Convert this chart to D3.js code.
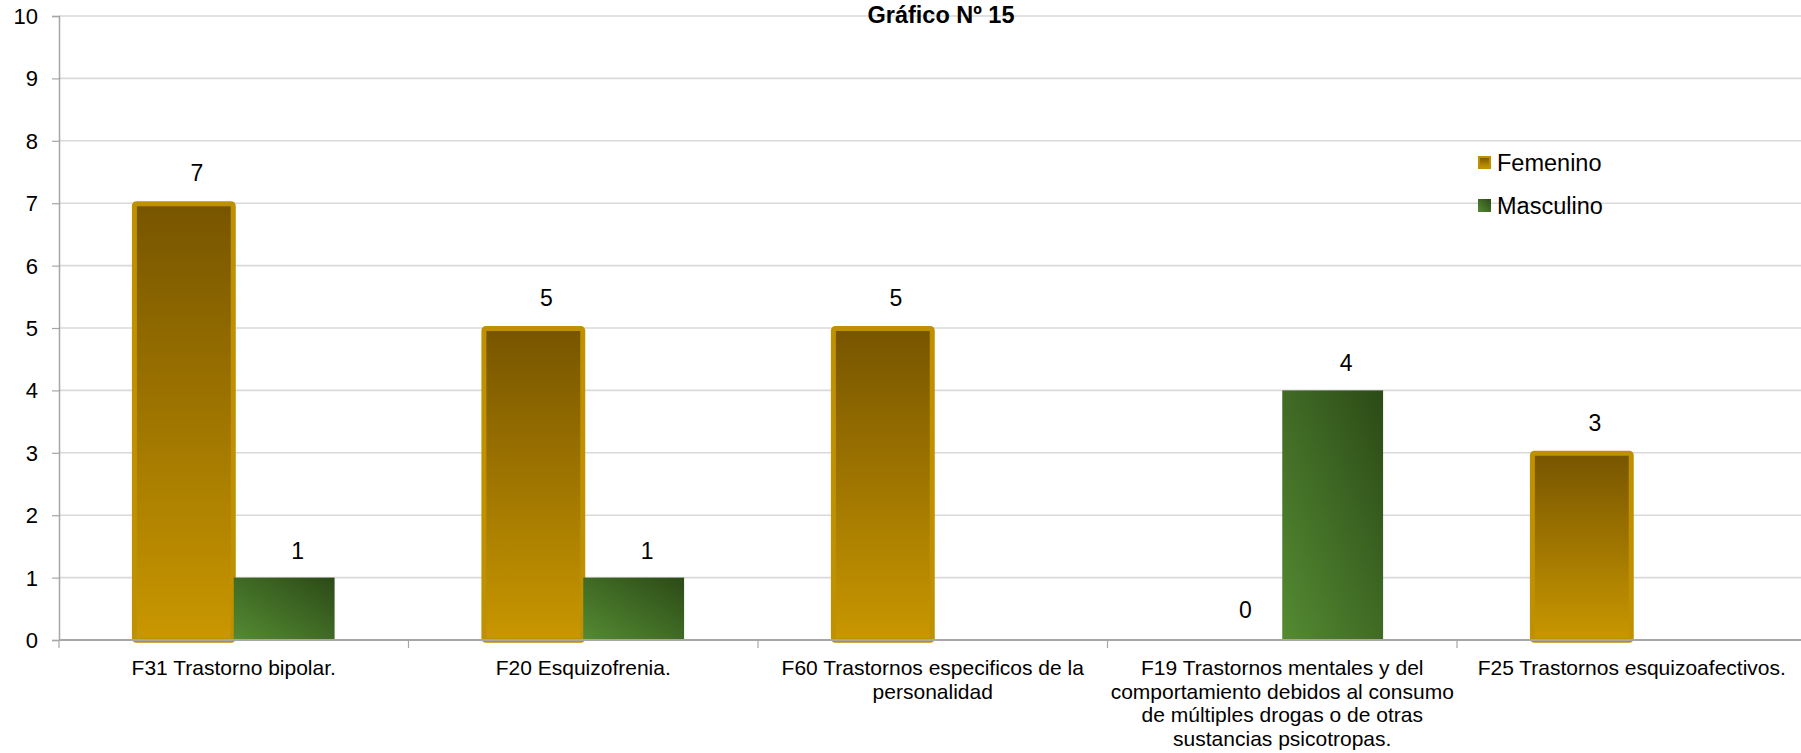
<!DOCTYPE html>
<html>
<head>
<meta charset="utf-8">
<script src="https://cdn.jsdelivr.net/npm/d3@7"></script>
<style>
  html, body { margin: 0; padding: 0; background: #fff; }
  svg { display: block; font-family: "Liberation Sans", Arial, sans-serif; }
</style>
</head>
<body>
<svg id="chart" width="1801" height="753"></svg>
<script>
// ---- data ----
const title = "Gráfico Nº 15";
const categories = [
  "F31 Trastorno bipolar.",
  "F20 Esquizofrenia.",
  "F60 Trastornos especificos de la personalidad",
  "F19 Trastornos mentales y del comportamiento debidos al consumo de múltiples drogas o de otras sustancias psicotropas.",
  "F25 Trastornos esquizoafectivos."
];
const categoryLines = [
  ["F31 Trastorno bipolar."],
  ["F20 Esquizofrenia."],
  ["F60 Trastornos especificos de la", "personalidad"],
  ["F19 Trastornos mentales y del", "comportamiento debidos al consumo", "de múltiples drogas o de otras", "sustancias psicotropas."],
  ["F25 Trastornos esquizoafectivos."]
];
const seriesNames = ["Femenino", "Masculino"];
const femenino  = [7, 5, 5, 0, 3];
const masculino = [1, 1, null, 4, null];
const yTicks = [0, 1, 2, 3, 4, 5, 6, 7, 8, 9, 10];

// ---- layout ----
const svg = d3.select("#chart");
const plotLeft = 59, plotRight = 1806.5, plotTop = 16, plotBottom = 640;

const y = d3.scaleLinear().domain([0, 10]).range([plotBottom, plotTop]);
const x0 = d3.scaleBand().domain(categories).range([plotLeft, plotRight])
  .paddingInner(0.4172).paddingOuter(0.2086);
const x1 = d3.scaleBand().domain(seriesNames).range([0, x0.bandwidth()]);
const step = x0.step();
const bandStart = c => x0(c) - step * x0.paddingInner() / 2;

// ---- defs ----
const defs = svg.append("defs");
const gGold = defs.append("linearGradient").attr("id", "gGold")
  .attr("x1", 0).attr("y1", 0).attr("x2", 0).attr("y2", 1);
gGold.append("stop").attr("offset", "0%").attr("stop-color", "#775500");
gGold.append("stop").attr("offset", "100%").attr("stop-color", "#C99700");
const gGreen = defs.append("linearGradient").attr("id", "gGreen")
  .attr("x1", 0).attr("y1", 1).attr("x2", 1).attr("y2", 0);
gGreen.append("stop").attr("offset", "0%").attr("stop-color", "#548B32");
gGreen.append("stop").attr("offset", "100%").attr("stop-color", "#2C4A17");

// ---- gridlines ----
svg.append("g").selectAll("line").data(yTicks.filter(d => d > 0)).join("line")
  .attr("x1", plotLeft).attr("x2", 1801)
  .attr("y1", d => y(d)).attr("y2", d => y(d))
  .attr("stroke", "#D9D9D9").attr("stroke-width", 1.6);

// ---- y axis ----
const yAxis = d3.axisLeft(y).tickValues(yTicks).tickSize(7).tickPadding(14).tickFormat(d3.format("d"));
const ya = svg.append("g").attr("transform", `translate(${plotLeft},0)`).call(yAxis);
ya.select(".domain").attr("stroke", "#A6A6A6").attr("stroke-width", 1.5);
ya.selectAll(".tick line").attr("stroke", "#A6A6A6").attr("stroke-width", 1.2);
ya.selectAll(".tick text").attr("font-size", 22).attr("fill", "#000")
  .attr("font-family", "'Liberation Sans', Arial, sans-serif").attr("dy", "0.34em");

// ---- bars ----
const fData = categories.map((c, i) => ({ c, v: femenino[i] }));
const mData = categories.map((c, i) => ({ c, v: masculino[i] })).filter(d => d.v !== null);

svg.append("g").selectAll("rect").data(fData.filter(d => d.v > 0)).join("rect")
  .attr("x", d => x0(d.c) + x1("Femenino") + 2.5)
  .attr("width", x1.bandwidth() - 3)
  .attr("y", d => y(d.v) + 0.5)
  .attr("height", d => y(0) - y(d.v) - 0.3)
  .attr("rx", 2)
  .attr("fill", "url(#gGold)")
  .attr("stroke", "#BF9000").attr("stroke-width", 5);

svg.append("g").selectAll("rect").data(mData.filter(d => d.v > 0)).join("rect")
  .attr("x", d => x0(d.c) + x1("Masculino"))
  .attr("width", x1.bandwidth() - 1)
  .attr("y", d => y(d.v))
  .attr("height", d => y(0) - y(d.v))
  .attr("fill", "url(#gGreen)");

// ---- x axis ----
svg.append("line").attr("x1", plotLeft).attr("x2", 1801).attr("y1", plotBottom).attr("y2", plotBottom)
  .attr("stroke", "#A6A6A6").attr("stroke-width", 2);
svg.append("g").selectAll("line").data(categories).join("line")
  .attr("x1", d => bandStart(d)).attr("x2", d => bandStart(d))
  .attr("y1", plotBottom).attr("y2", plotBottom + 8)
  .attr("stroke", "#A6A6A6").attr("stroke-width", 1.2);

const catG = svg.append("g").attr("font-size", 21).attr("fill", "#000").attr("text-anchor", "middle");
categories.forEach((c, i) => {
  const cx = x0(c) + x0.bandwidth() / 2;
  const t = catG.append("text").attr("x", cx).attr("y", 675);
  categoryLines[i].forEach((ln, j) => {
    t.append("tspan").attr("x", cx).attr("dy", j === 0 ? 0 : 23.5).text(ln);
  });
});

// ---- data labels ----
const lbl = svg.append("g").attr("font-size", 23).attr("fill", "#000").attr("text-anchor", "middle");
lbl.selectAll("text.f").data(fData).join("text").attr("class", "f")
  .attr("x", d => x0(d.c) + x1("Femenino") + x1.bandwidth() / 2 + 14)
  .attr("y", d => y(d.v) - 22)
  .text(d => d.v);
lbl.selectAll("text.m").data(mData).join("text").attr("class", "m")
  .attr("x", d => x0(d.c) + x1("Masculino") + x1.bandwidth() / 2 + 13)
  .attr("y", d => y(d.v) - 19)
  .text(d => d.v);

// ---- title ----
svg.append("text").attr("x", 941).attr("y", 23).attr("text-anchor", "middle")
  .attr("font-size", 23.5).attr("font-weight", "bold").attr("fill", "#000").text(title);

// ---- legend ----
const legend = svg.append("g").attr("transform", "translate(1478,156)");
seriesNames.forEach((s, i) => {
  const g = legend.append("g").attr("transform", `translate(0,${i * 43})`);
  if (s === "Femenino") {
    g.append("rect").attr("x", 1).attr("y", 1).attr("width", 11).attr("height", 11)
      .attr("fill", "url(#gGold)").attr("stroke", "#BF9000").attr("stroke-width", 2);
  } else {
    g.append("rect").attr("x", 0).attr("y", 0).attr("width", 13).attr("height", 13)
      .attr("fill", "url(#gGreen)");
  }
  g.append("text").attr("x", 19).attr("y", 15).attr("font-size", 23.5).attr("fill", "#000").text(s);
});
</script>
</body>
</html>
